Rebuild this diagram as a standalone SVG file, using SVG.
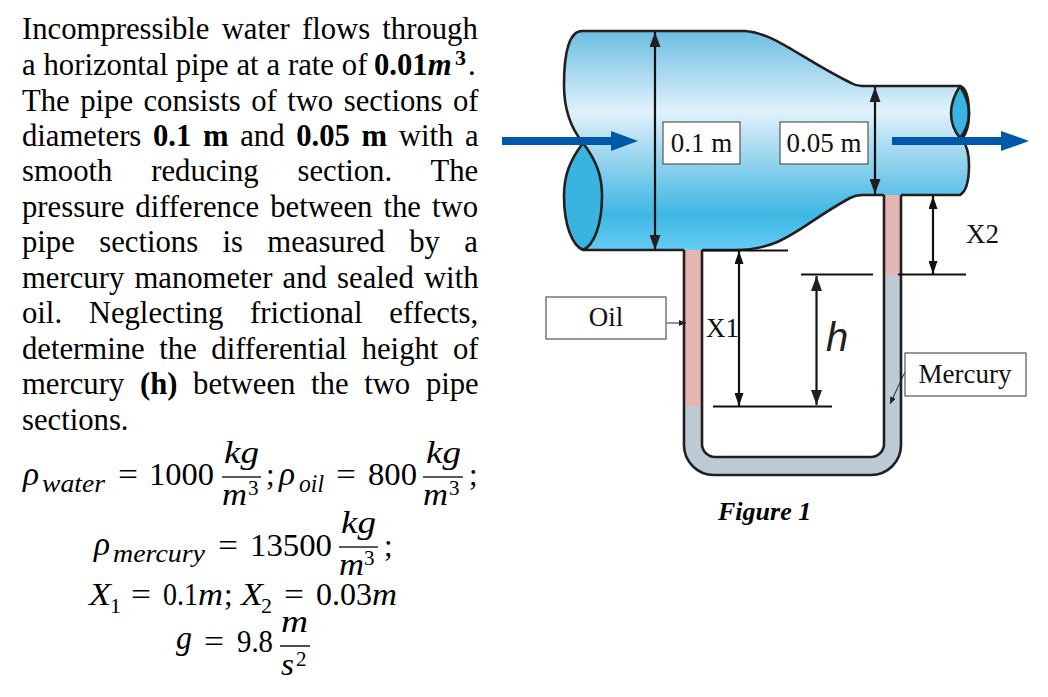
<svg xmlns="http://www.w3.org/2000/svg" width="1048" height="697" viewBox="0 0 1048 697">
<style>
text{font-family:"Liberation Serif","Times New Roman",serif;fill:#000}
.b{font-size:30.7px}
.bd{font-weight:bold}
.m{font-size:31px}
.i{font-style:italic}
.s{font-size:25px;font-style:italic}
.r{font-size:33px;font-style:italic}
.l{font-size:27px;fill:#111}
.c{text-anchor:middle}
.o{fill:none;stroke:#231f20;stroke-width:2.6;stroke-linejoin:round}
.d{fill:none;stroke:#111;stroke-width:2.2}
.box{fill:#fff;stroke:#555;stroke-width:1.2}
.bar{stroke:#222;stroke-width:1.6}
</style>
<defs>
<linearGradient id="w" x1="0" y1="31" x2="0" y2="250" gradientUnits="userSpaceOnUse">
<stop offset="0" stop-color="#6dbde3"/>
<stop offset=".37" stop-color="#e0f2fc"/>
<stop offset=".55" stop-color="#a3d8f0"/>
<stop offset=".84" stop-color="#3db7e3"/>
<stop offset="1" stop-color="#66ccf4"/>
</linearGradient>
<marker id="big" viewBox="0 0 15 11" markerUnits="userSpaceOnUse" markerWidth="15" markerHeight="11" refX="15" refY="5.5" orient="auto-start-reverse"><path d="M0 0L15 5.5L0 11Z" fill="#231f20"/></marker>
<marker id="mid" viewBox="0 0 13 9" markerUnits="userSpaceOnUse" markerWidth="13" markerHeight="9" refX="13" refY="4.5" orient="auto-start-reverse"><path d="M0 0L13 4.5L0 9Z" fill="#111"/></marker>
<marker id="sm" viewBox="0 0 7 6" markerUnits="userSpaceOnUse" markerWidth="7" markerHeight="6" refX="7" refY="3" orient="auto"><path d="M0 0L7 3L0 6Z" fill="#222"/></marker>
</defs>

<g id="problem-text">
<text class="b" x="22" y="39" word-spacing="4.5">Incompressible water flows through</text>
<text class="b" x="22" y="75" word-spacing="0.2">a horizontal pipe at a rate of</text>
<text class="b bd" x="374" y="75">0.01<tspan class="i">m</tspan></text>
<text class="bd" x="455" y="65" font-size="22">3</text>
<text class="b" x="468" y="75">.</text>
<text class="b" x="22" y="110.5" word-spacing="2.8">The pipe consists of two sections of</text>
<text class="b" x="22" y="146" word-spacing="4">diameters <tspan class="bd">0.1 m</tspan> and <tspan class="bd">0.05 m</tspan> with a</text>
<text class="b" x="22" y="181" word-spacing="31.2">smooth reducing section. The</text>
<text class="b" x="22" y="217" word-spacing="3.4">pressure difference between the two</text>
<text class="b" x="22" y="252" word-spacing="16.7">pipe sections is measured by a</text>
<text class="b" x="22" y="288" word-spacing="2.5">mercury manometer and sealed with</text>
<text class="b" x="22" y="323" word-spacing="19">oil. Neglecting frictional effects,</text>
<text class="b" x="22" y="359" word-spacing="6.9">determine the differential height of</text>
<text class="b" x="22" y="394" word-spacing="8">mercury <tspan class="bd">(h)</tspan> between the two pipe</text>
<text class="b" x="22" y="430">sections.</text>
</g>

<g id="equations">
<text class="r" x="23" y="485" textLength="16" lengthAdjust="spacingAndGlyphs">ρ</text><text class="s" x="42" y="492" textLength="63" lengthAdjust="spacingAndGlyphs">water</text>
<text class="m" x="118" y="485" textLength="20" lengthAdjust="spacingAndGlyphs">=</text>
<text class="m" x="149" y="485" textLength="65" lengthAdjust="spacingAndGlyphs">1000</text>
<line class="bar" x1="222" y1="477" x2="261" y2="477"/>
<text class="m i" x="224" y="463" textLength="35" lengthAdjust="spacingAndGlyphs">kg</text><text class="m i" x="222" y="505" textLength="25" lengthAdjust="spacingAndGlyphs">m</text><text x="248" y="495" font-size="21">3</text>
<text class="m" x="266" y="485">;</text>
<text class="r" x="279" y="485" textLength="16" lengthAdjust="spacingAndGlyphs">ρ</text><text class="s" x="299" y="492" textLength="25" lengthAdjust="spacingAndGlyphs">oil</text>
<text class="m" x="336" y="485" textLength="20" lengthAdjust="spacingAndGlyphs">=</text>
<text class="m" x="368" y="485" textLength="49" lengthAdjust="spacingAndGlyphs">800</text>
<line class="bar" x1="423" y1="477" x2="463" y2="477"/>
<text class="m i" x="426" y="463" textLength="35" lengthAdjust="spacingAndGlyphs">kg</text><text class="m i" x="423" y="505" textLength="25" lengthAdjust="spacingAndGlyphs">m</text><text x="449" y="495" font-size="21">3</text>
<text class="m" x="469" y="485">;</text>

<text class="r" x="94" y="555" textLength="16" lengthAdjust="spacingAndGlyphs">ρ</text><text class="s" x="113" y="562" textLength="92" lengthAdjust="spacingAndGlyphs">mercury</text>
<text class="m" x="218" y="556" textLength="20" lengthAdjust="spacingAndGlyphs">=</text>
<text class="m" x="250" y="556" textLength="82" lengthAdjust="spacingAndGlyphs">13500</text>
<line class="bar" x1="339" y1="547" x2="378" y2="547"/>
<text class="m i" x="341" y="533" textLength="35" lengthAdjust="spacingAndGlyphs">kg</text><text class="m i" x="339" y="575" textLength="25" lengthAdjust="spacingAndGlyphs">m</text><text x="364" y="565" font-size="21">3</text>
<text class="m" x="384" y="556">;</text>

<text class="m i" x="89" y="605" textLength="22" lengthAdjust="spacingAndGlyphs">X</text><text x="110" y="613" font-size="22">1</text>
<text class="m" x="131" y="605" textLength="20" lengthAdjust="spacingAndGlyphs">=</text>
<text class="m" x="163" y="605" textLength="35" lengthAdjust="spacingAndGlyphs">0.1</text><text class="m i" x="198" y="605" textLength="25" lengthAdjust="spacingAndGlyphs">m</text><text class="m" x="224" y="605">;</text>
<text class="m i" x="241" y="605" textLength="22" lengthAdjust="spacingAndGlyphs">X</text><text x="261" y="613" font-size="22">2</text>
<text class="m" x="284" y="605" textLength="20" lengthAdjust="spacingAndGlyphs">=</text>
<text class="m" x="316" y="605" textLength="56" lengthAdjust="spacingAndGlyphs">0.03</text><text class="m i" x="372" y="605" textLength="25" lengthAdjust="spacingAndGlyphs">m</text>

<text class="r" x="176" y="649" textLength="16" lengthAdjust="spacingAndGlyphs">g</text>
<text class="m" x="204" y="652" textLength="20" lengthAdjust="spacingAndGlyphs">=</text>
<text class="m" x="237" y="652" textLength="36" lengthAdjust="spacingAndGlyphs">9.8</text>
<line class="bar" x1="280" y1="646" x2="310" y2="646"/>
<text class="m i" x="281" y="632" textLength="27" lengthAdjust="spacingAndGlyphs">m</text><text class="m i" x="281" y="675" textLength="13" lengthAdjust="spacingAndGlyphs">s</text><text x="296" y="666" font-size="21">2</text>
</g>

<g id="pipe">
<path d="M582 31H745C775 33 800 58 851 83Q856 86 862 86H960Q969 88 969 115Q969 130 962 139Q969 148 969 165Q969 190 960 195H862Q856 195 850 198C800 225 785 250 735 250H583C572 245 564 225 564 196C564 175 570 160 583 143Q564 120 564 85C564 50 570 31 582 31Z" fill="url(#w)"/>
<path d="M583 143C570 160 564 175 564 196C564 225 572 245 583 250C594 245 602 225 602 196C602 175 596 160 583 143Z" fill="#39b4e0"/>
<path d="M960 86Q951 100 951 113Q951 127 960 138Q969 127 969 113Q969 100 960 86Z" fill="#39b4e0"/>
<path class="o" d="M684 250H583C572 245 564 225 564 196C564 175 570 160 583 143Q564 120 564 85C564 50 570 31 582 31H745C775 33 800 58 851 83Q856 86 862 86H960Q969 88 969 115Q969 130 962 139Q969 148 969 165Q969 190 960 195H901M884 195H862Q856 195 850 198C800 225 785 250 735 250H702"/>
<path class="o" d="M583 143C596 160 602 175 602 196C602 225 594 245 583 250"/>
<path class="o" d="M960 86Q951 100 951 113Q951 127 960 138Q969 127 969 113Q969 100 960 86Z"/>
</g>

<g id="manometer">
<path d="M684 406V445A30 30 0 0 0 714 475H871A30 30 0 0 0 901 445V275H884V444A13 13 0 0 1 871 457H715A13 13 0 0 1 702 444V406Z" fill="#bdccd4"/>
<rect x="684" y="250" width="18" height="156" fill="#e4b6b3"/>
<rect x="884" y="195" width="17" height="80" fill="#e4b6b3"/>
<path class="o" d="M684 250V445A30 30 0 0 0 714 475H871A30 30 0 0 0 901 445V195M884 195V444A13 13 0 0 1 871 457H715A13 13 0 0 1 702 444V250"/>
</g>

<g id="connectors">
<path d="M502 137H611V131L638 141L611 151V145H502Z" fill="#0058a8"/>
<path d="M892 137H1001V131L1029 141L1001 151V145H892Z" fill="#0058a8"/>
<line class="d" x1="655" y1="32" x2="655" y2="250" marker-start="url(#big)" marker-end="url(#big)"/>
<line class="d" x1="875" y1="87" x2="875" y2="194" marker-start="url(#big)" marker-end="url(#big)"/>
<line class="d" x1="702" y1="250.5" x2="788" y2="250.5"/>
<line class="d" x1="739" y1="251" x2="739" y2="406" marker-start="url(#mid)" marker-end="url(#mid)"/>
<line class="d" x1="801" y1="274.5" x2="873" y2="274.5"/>
<line class="d" x1="713" y1="406.5" x2="832" y2="406.5"/>
<line class="d" x1="816.5" y1="276" x2="816.5" y2="405" marker-start="url(#big)" marker-end="url(#big)"/>
<line class="d" x1="898" y1="274.5" x2="966" y2="274.5"/>
<line class="d" x1="933" y1="196" x2="933" y2="274" marker-start="url(#mid)" marker-end="url(#mid)"/>
<line x1="667" y1="323" x2="686" y2="323" stroke="#222" stroke-width="1" marker-end="url(#sm)"/>
<line x1="905" y1="372" x2="890" y2="404" stroke="#222" stroke-width="1" marker-end="url(#sm)"/>
</g>

<g id="label-01m"><rect class="box" x="663" y="122" width="77" height="42"/><text class="l c" x="701.5" y="151.5">0.1 m</text></g>
<g id="label-005m"><rect class="box" x="780" y="122" width="88" height="42"/><text class="l c" x="824" y="151.5">0.05 m</text></g>
<g id="label-oil"><rect class="box" x="546" y="297" width="120" height="42"/><text class="l c" x="606" y="326">Oil</text></g>
<g id="label-mercury"><rect class="box" x="905" y="353" width="121" height="43"/><text class="l c" x="965" y="382.5">Mercury</text></g>
<g id="label-x1"><text class="l" x="706" y="337">X1</text></g>
<g id="label-x2"><text class="l" x="966" y="243">X2</text></g>
<g id="label-h"><text x="826" y="351" font-size="40" font-style="italic" style="font-family:'Liberation Sans',Arial,sans-serif;fill:#231f20">h</text></g>
<g id="caption"><text x="718" y="520" font-size="26" font-weight="bold" font-style="italic">Figure 1</text></g>
</svg>
